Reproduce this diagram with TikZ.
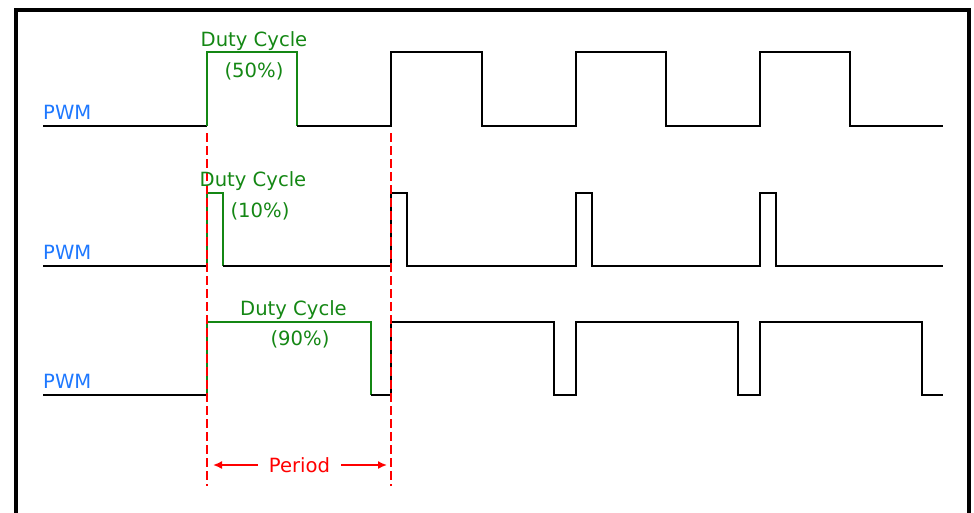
\documentclass[tikz,border=0pt]{standalone}
\usepackage{fontspec}
\setmainfont{DejaVu Sans}
\usetikzlibrary{arrows.meta}
\definecolor{wgreen}{RGB}{20,135,20}
\definecolor{wblue}{RGB}{30,120,255}
\definecolor{wred}{RGB}{255,0,0}
\tikzset{
  wave/.style={line width=2.6pt, black, line join=miter},
  gwave/.style={line width=2.6pt, wgreen, line join=miter},
  glabel/.style={text=wgreen, font=\fontsize{19.6}{22}\selectfont, anchor=base, inner sep=0pt},
  plabel/.style={text=wblue, font=\fontsize{19.6}{22}\selectfont, anchor=base west, inner sep=0pt},
  rlabel/.style={text=wred, font=\fontsize{19.6}{22}\selectfont, anchor=base, inner sep=0pt},
  marker/.style={wred, line width=2.6pt, dash pattern=on 9pt off 4pt},
  perarrow/.style={wred, line width=1.6pt, -{Latex[length=9pt,width=8pt]}}
}
\begin{document}
\begin{tikzpicture}[x=1pt,y=-1pt]
\useasboundingbox (0,0) rectangle (974,512);
\begin{scope}
\clip (0,0) rectangle (974,512);
\draw[line width=3.5pt] (16,530) -- (16,10) -- (969,10) -- (969,530);
\end{scope}

% waveform 1 (50%)
\draw[wave] (43,126) -- (207,126);
\draw[gwave] (207,126) -- (207,52) -- (297,52) -- (297,126);
\draw[wave] (297,126) -- (391,126) -- (391,52) -- (482,52) -- (482,126)
  -- (576,126) -- (576,52) -- (666,52) -- (666,126)
  -- (760,126) -- (760,52) -- (850,52) -- (850,126) -- (943,126);

% waveform 2 (10%)
\draw[wave] (43,266) -- (207,266);
\draw[gwave] (207,266) -- (207,193) -- (223,193) -- (223,266);
\draw[wave] (223,266) -- (391,266) -- (391,193) -- (407,193) -- (407,266)
  -- (576,266) -- (576,193) -- (592,193) -- (592,266)
  -- (760,266) -- (760,193) -- (776,193) -- (776,266) -- (943,266);

% waveform 3 (90%)
\draw[wave] (43,395) -- (207,395);
\draw[gwave] (207,395) -- (207,322) -- (371,322) -- (371,395);
\draw[wave] (371,395) -- (391,395) -- (391,322) -- (554,322) -- (554,395)
  -- (576,395) -- (576,322) -- (738,322) -- (738,395)
  -- (760,395) -- (760,322) -- (922,322) -- (922,395) -- (943,395);

% dashed period markers
\coordinate (m1t) at (207,133);
\coordinate (m1b) at (207,486);
\coordinate (m2t) at (391,133);
\coordinate (m2b) at (391,486);
\draw[marker] (m1t) -- (m1b);
\draw[marker] (m2t) -- (m2b);

% labels
\node[plabel] (p1) at (43,119) {PWM};
\node[plabel] (p2) at (43,259) {PWM};
\node[plabel] (p3) at (43,388) {PWM};

\node[glabel] (d1) at (254,46) {Duty Cycle};
\node[glabel] (d1p) at (254,77) {(50\%)};
\node[glabel] (d2) at (253,186) {Duty Cycle};
\node[glabel] (d2p) at (260,217) {(10\%)};
\node[glabel] (d3) at (293.5,315) {Duty Cycle};
\node[glabel] (d3p) at (300,345) {(90\%)};

% period
\node[rlabel] (per) at (299.5,472) {Period};
\coordinate (al) at (213,465);
\coordinate (ar) at (387,465);
\draw[perarrow] (258,465) -- (al);
\draw[perarrow] (341,465) -- (ar);
\end{tikzpicture}
\end{document}
